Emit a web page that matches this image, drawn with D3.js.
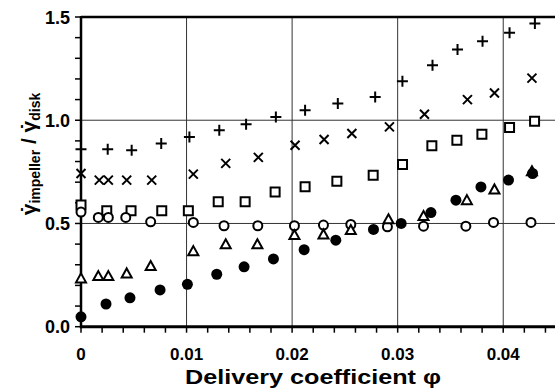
<!DOCTYPE html>
<html>
<head>
<meta charset="utf-8">
<script src="https://cdn.jsdelivr.net/npm/d3@7"></script>
<style>
  body { margin: 0; background: #fff; }
  text { font-family: "Liberation Sans", Arial, sans-serif; font-weight: bold; }
</style>
</head>
<body>
<div id="chart"></div>
<script>
const CONSTANTS = {
    WIDTH: 555,
    HEIGHT: 388,
    LEFT: 81,
    RIGHT: 556,
    TOP: 17,
    BOTTOM: 326.7,
}

// delivery coefficient / shear-rate ratio
const plusPhi = [0, 0.00253, 0.0048, 0.0076, 0.01027, 0.0131, 0.01564, 0.01846, 0.02123, 0.02433, 0.02787, 0.03045, 0.0333, 0.03567, 0.03804, 0.0406, 0.0430];
const plusVal = [0.860, 0.860, 0.855, 0.887, 0.919, 0.952, 0.981, 1.016, 1.048, 1.081, 1.113, 1.189, 1.266, 1.342, 1.382, 1.424, 1.468];

const crossPhi = [0, 0.00173, 0.00259, 0.00433, 0.0067, 0.01064, 0.01371, 0.0168, 0.02028, 0.02303, 0.02566, 0.02922, 0.03254, 0.03661, 0.03917, 0.04272];
const crossVal = [0.742, 0.710, 0.710, 0.710, 0.710, 0.739, 0.791, 0.820, 0.879, 0.907, 0.936, 0.968, 1.029, 1.100, 1.132, 1.204];

const squarePhi = [0, 0.00244, 0.00474, 0.00765, 0.01017, 0.0130, 0.01555, 0.01839, 0.02123, 0.02424, 0.02768, 0.03046, 0.03324, 0.03561, 0.03798, 0.0406, 0.04297];
const squareVal = [0.589, 0.561, 0.561, 0.561, 0.561, 0.605, 0.605, 0.653, 0.678, 0.705, 0.734, 0.786, 0.876, 0.903, 0.932, 0.965, 0.995];

const circlePhi = [0, 0.00164, 0.00259, 0.00424, 0.0066, 0.01064, 0.01355, 0.01675, 0.02022, 0.02297, 0.02556, 0.02903, 0.03245, 0.03646, 0.03908, 0.04263];
const circleVal = [0.555, 0.529, 0.529, 0.529, 0.508, 0.505, 0.489, 0.489, 0.489, 0.492, 0.495, 0.484, 0.487, 0.487, 0.505, 0.505];

const trianglePhi = [0, 0.00164, 0.00259, 0.00433, 0.0066, 0.01064, 0.01371, 0.01671, 0.02022, 0.02297, 0.02556, 0.02913, 0.03245, 0.03656, 0.03917, 0.04272];
const triangleVal = [0.234, 0.245, 0.245, 0.258, 0.294, 0.366, 0.399, 0.399, 0.444, 0.447, 0.468, 0.520, 0.536, 0.613, 0.665, 0.753];

const dotPhi = [0, 0.00237, 0.00464, 0.00749, 0.01008, 0.01286, 0.01545, 0.01823, 0.02114, 0.02414, 0.02771, 0.03033, 0.03315, 0.03552, 0.03789, 0.0405, 0.04278];
const dotVal = [0.048, 0.110, 0.140, 0.178, 0.205, 0.254, 0.290, 0.328, 0.373, 0.419, 0.471, 0.500, 0.553, 0.613, 0.677, 0.710, 0.742];

const xTickLabels = ["0", "0.01", "0.02", "0.03", "0.04"];
const yTickLabels = ["0.0", "0.5", "1.0", "1.5"];

const x = d3.scaleLinear().domain([0, 0.045]).range([CONSTANTS.LEFT, CONSTANTS.RIGHT]);
const y = d3.scaleLinear().domain([0, 1.5]).range([CONSTANTS.BOTTOM, CONSTANTS.TOP]);

const svg = d3.select("#chart")
    .append("svg")
    .attr("width", CONSTANTS.WIDTH)
    .attr("height", CONSTANTS.HEIGHT);

// grid
const grid = svg.append("g").attr("stroke", "#333").attr("stroke-width", 1);
grid.selectAll("line.v")
    .data(xTickLabels.slice(1).map(Number))
    .join("line")
    .attr("x1", d => x(d)).attr("x2", d => x(d))
    .attr("y1", y(1.5)).attr("y2", y(0));
grid.selectAll("line.h")
    .data([0.5, 1.0])
    .join("line")
    .attr("class", "h")
    .attr("x1", x(0)).attr("x2", CONSTANTS.WIDTH)
    .attr("y1", d => y(d)).attr("y2", d => y(d));

// minor ticks
svg.append("g")
    .attr("stroke", "#000").attr("stroke-width", 1.5)
    .selectAll("line")
    .data(d3.range(0, 0.0451, 0.002))
    .join("line")
    .attr("x1", d => x(d)).attr("x2", d => x(d))
    .attr("y1", y(0)).attr("y2", y(0) + 6);

svg.append("g")
    .attr("stroke", "#000").attr("stroke-width", 1.5)
    .selectAll("line")
    .data(d3.range(0, 1.51, 0.1))
    .join("line")
    .attr("x1", x(0) - 6).attr("x2", x(0))
    .attr("y1", d => y(d)).attr("y2", d => y(d));

// frame
svg.append("line")
    .attr("x1", x(0)).attr("x2", CONSTANTS.WIDTH)
    .attr("y1", y(0)).attr("y2", y(0))
    .attr("stroke", "#000").attr("stroke-width", 3);
svg.append("line")
    .attr("x1", x(0)).attr("x2", CONSTANTS.WIDTH)
    .attr("y1", y(1.5)).attr("y2", y(1.5))
    .attr("stroke", "#000").attr("stroke-width", 2.5);
svg.append("line")
    .attr("x1", x(0)).attr("x2", x(0))
    .attr("y1", y(1.5) - 1).attr("y2", y(0) + 1.5)
    .attr("stroke", "#000").attr("stroke-width", 2.5);

// tick labels
svg.append("g")
    .attr("font-size", 17)
    .attr("text-anchor", "middle")
    .selectAll("text")
    .data(xTickLabels)
    .join("text")
    .attr("x", d => x(+d))
    .attr("y", y(0) + 33.5)
    .text(d => d);

svg.append("g")
    .attr("font-size", 18)
    .attr("text-anchor", "end")
    .selectAll("text")
    .data(yTickLabels)
    .join("text")
    .attr("x", x(0) - 11)
    .attr("y", d => y(+d) + 6.5)
    .text(d => d);

// axis titles
svg.append("text")
    .attr("transform", "translate(313,384) scale(1.2,1)")
    .attr("font-size", 21)
    .attr("text-anchor", "middle")
    .text("Delivery coefficient \u03c6");

const ytitle = svg.append("text")
    .attr("transform", "translate(36,154) rotate(-90)")
    .attr("font-size", 21)
    .attr("text-anchor", "middle");

// gamma with a dot over it (spacing dot pulled back over the glyph)
function gammaDot(sel) {
    const g = sel.append("tspan").text("\u03b3");
    const w1 = g.node().getComputedTextLength();
    const dot = sel.append("tspan").text("\u02d9");
    const w2 = dot.node().getComputedTextLength();
    dot.attr("dx", -(w1 + w2) / 2);
    return (w1 - w2) / 2;
}

let back = gammaDot(ytitle);
ytitle.append("tspan").attr("font-size", 14).attr("dx", back).attr("dy", 4).text("impeller");
ytitle.append("tspan").attr("dy", -4).text(" / ");
back = gammaDot(ytitle);
ytitle.append("tspan").attr("font-size", 14).attr("dx", back).attr("dy", 4).text("disk");

// markers
const series = [
    { phi: plusPhi, val: plusVal, shape: "plus" },
    { phi: crossPhi, val: crossVal, shape: "cross" },
    { phi: squarePhi, val: squareVal, shape: "square" },
    { phi: circlePhi, val: circleVal, shape: "circle" },
    { phi: trianglePhi, val: triangleVal, shape: "triangle" },
    { phi: dotPhi, val: dotVal, shape: "dot" },
];

const shapes = {
    plus: "M-5.5,0H5.5M0,-5.5V5.5",
    cross: "M-4.5,-4.5L4.5,4.5M-4.5,4.5L4.5,-4.5",
    square: "M-4.5,-4.5H4.5V4.5H-4.5Z",
    triangle: "M0,-5L5,4H-5Z",
};

series.forEach((s) => {
    const pts = s.phi.map((p, i) => ({ phi: p, val: s.val[i] }));
    const g = svg.append("g");
    if (s.shape === "circle" || s.shape === "dot") {
        g.selectAll("circle")
            .data(pts)
            .join("circle")
            .attr("cx", d => x(d.phi))
            .attr("cy", d => y(d.val))
            .attr("r", s.shape === "dot" ? 5.5 : 4.5)
            .attr("fill", s.shape === "dot" ? "#000" : "#fff")
            .attr("stroke", "#000")
            .attr("stroke-width", s.shape === "dot" ? 0 : 2);
    } else {
        g.selectAll("path")
            .data(pts)
            .join("path")
            .attr("transform", d => `translate(${x(d.phi)},${y(d.val)})`)
            .attr("d", shapes[s.shape])
            .attr("fill", s.shape === "square" || s.shape === "triangle" ? "#fff" : "none")
            .attr("stroke", "#000")
            .attr("stroke-width", 2)
            .attr("stroke-linejoin", "miter");
    }
});
</script>
</body>
</html>
